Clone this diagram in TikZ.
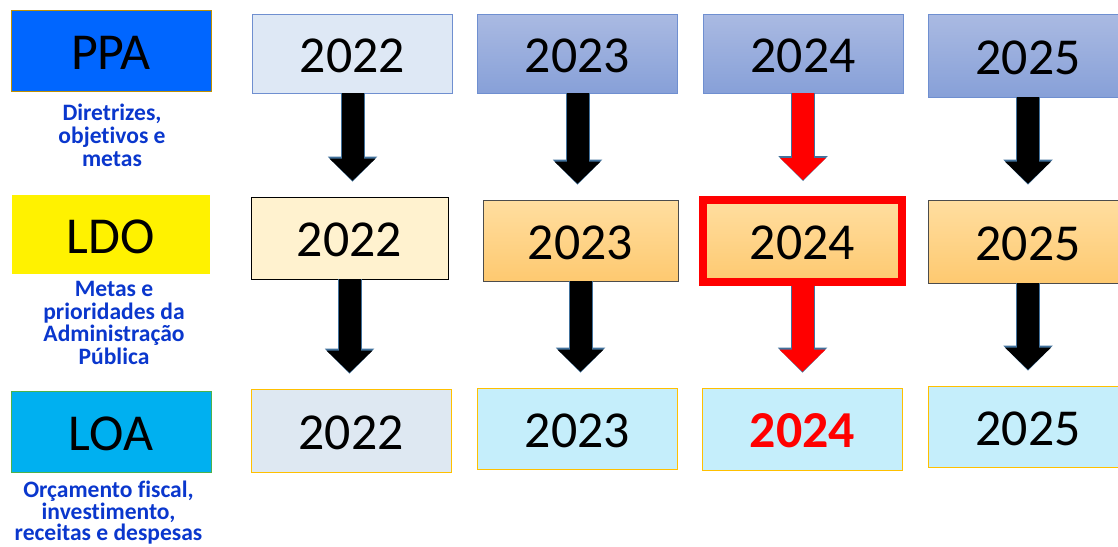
\documentclass[tikz,border=0pt]{standalone}
\usepackage{fontspec}
\setmainfont{Carlito}[Ligatures=NoCommon]
\usetikzlibrary{arrows.meta}
\definecolor{ppablue}{RGB}{0,102,255}
\definecolor{loacyan}{RGB}{0,176,240}
\definecolor{labelblue}{RGB}{10,55,205}
\definecolor{boxblue}{RGB}{111,143,208}
\definecolor{gold}{RGB}{255,192,0}
\definecolor{slate}{RGB}{65,113,156}
\begin{document}
\begin{tikzpicture}[
  yearbox/.style={minimum width=4cm,minimum height=1.62cm,inner sep=0pt,
    text height=21.5pt,text depth=0pt,font=\fontsize{29.5}{30}\selectfont},
  lawbox/.style={yearbox},
  note/.style={align=center,text=labelblue,font=\fontsize{13.4}{13}\bfseries},
  ppabox/.style={yearbox,draw=boxblue,top color={rgb,255:red,170;green,186;blue,226},
    bottom color={rgb,255:red,135;green,160;blue,216}},
  ldobox/.style={yearbox,draw=black!70,top color={rgb,255:red,255;green,222;blue,160},
    bottom color={rgb,255:red,254;green,201;blue,112}},
  loabox/.style={yearbox,draw=gold,fill={rgb,255:red,197;green,238;blue,251}},
  bigarrow/.style={line width=0.44cm,-{Triangle[length=0.44cm,width=0.92cm,line width=0pt]},
    shorten >=0.32cm},
  arrowrim/.style={line width=0.48cm,-{Triangle[length=0.5cm,width=0.99cm,line width=0pt]},
    shorten >=0.30cm,slate},
]
\useasboundingbox (0,0) rectangle (22.36,-10.94);
\newcommand{\yarr}[3]{\draw [arrowrim] (#1.south) -- (#1.south |- #2.north);
  \draw [bigarrow,#3] (#1.south) -- (#1.south |- #2.north);}

% left column
\node [lawbox,draw=gold!75!black,fill=ppablue] (ppa) at (2.22,-1.02) {PPA};
\node [note] (ppanote) at (2.24,-2.70) {Diretrizes,\\objetivos e\\metas};
\node [lawbox,minimum width=3.96cm,minimum height=1.58cm,fill=yellow] (ldo) at (2.22,-4.69) {LDO};
\node [note] (ldonote) at (2.28,-6.46) {Metas e\\prioridades da\\Administração\\Pública};
\node [lawbox,draw=green!40!gray,fill=loacyan] (loa) at (2.22,-8.63) {LOA};
\node [note,font=\fontsize{13.4}{10.6}\bfseries] (loanote) at (2.17,-10.25) {Orçamento fiscal,\\investimento,\\receitas e despesas};

% PPA row
\node [yearbox,draw=boxblue,fill={rgb,255:red,222;green,232;blue,245},minimum height=1.58cm] (p22) at (7.05,-1.07) {2022};
\node [ppabox,minimum height=1.58cm] (p23) at (11.55,-1.07) {2023};
\node [ppabox,minimum height=1.58cm] (p24) at (16.06,-1.07) {2024};
\node [ppabox,minimum height=1.66cm] (p25) at (20.56,-1.11) {2025};

% LDO row
\node [yearbox,draw=black,fill={rgb,255:red,255;green,242;blue,207},minimum width=3.94cm,minimum height=1.64cm] (l22) at (6.99,-4.76) {2022};
\node [ldobox,minimum width=3.9cm] (l23) at (11.61,-4.81) {2023};
\node [ldobox,draw=red,line width=0.16cm,minimum width=3.98cm,minimum height=1.64cm] (l24) at (16.05,-4.82) {2024};
\node [ldobox,minimum height=1.66cm] (l25) at (20.56,-4.83) {2025};

% LOA row
\node [loabox,fill={rgb,255:red,222;green,232;blue,242},minimum height=1.66cm] (o22) at (7.02,-8.61) {2022};
\node [loabox] (o23) at (11.55,-8.57) {2023};
\node [loabox,minimum height=1.64cm,text=red,font=\fontsize{29.5}{30}\bfseries] (o24) at (16.05,-8.58) {2024};
\node [loabox] (o25) at (20.56,-8.53) {2025};

\yarr{p22}{l22}{black}
\yarr{p23}{l23}{black}
\yarr{p24}{l24}{red}
\yarr{p25}{l25}{black}
\yarr{l22}{o22}{black}
\yarr{l23}{o23}{black}
\yarr{l24}{o24}{red}
\yarr{l25}{o25}{black}
\end{tikzpicture}
\end{document}
